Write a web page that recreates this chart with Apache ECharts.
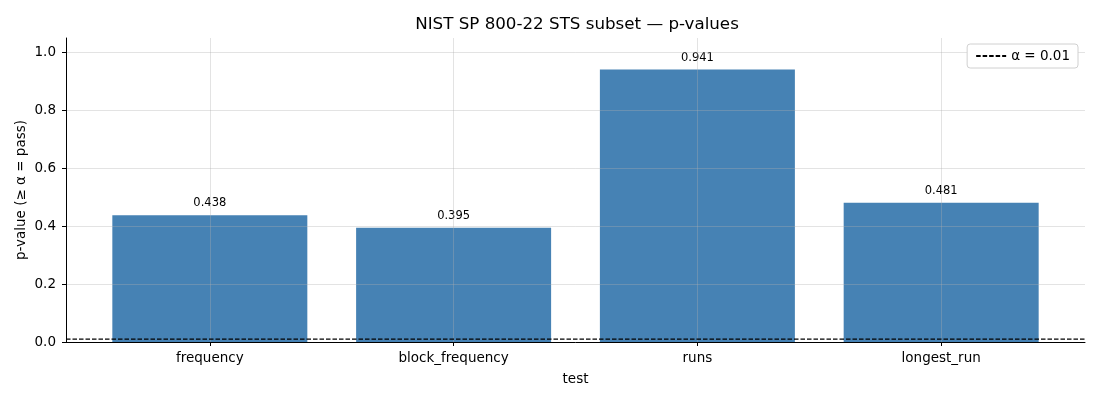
<!DOCTYPE html>
<html>
<head>
<meta charset="utf-8">
<script src="https://cdn.jsdelivr.net/npm/echarts@6/dist/echarts.min.js"></script>
<style>
  html, body { margin: 0; padding: 0; background: #fff; }
  #myChart { width: 1100px; height: 400px; }
</style>
</head>
<body>
<div id="myChart"></div>
<script>
// 数据
var tests = ['frequency', 'block_frequency', 'runs', 'longest_run'];
var pValues = [0.438, 0.395, 0.941, 0.481];
var alpha = 0.01;
var yTicks = [0, 0.2, 0.4, 0.6, 0.8, 1.0];
var xMin = -0.59, xMax = 3.59;

var myChart = echarts.init(document.getElementById('myChart'));
var font = 'DejaVu Sans';
var gridColor = 'rgba(176,176,176,0.35)';

var barData = [];
for (var i = 0; i < tests.length; i++) {
    barData.push([i, pValues[i]]);
}

var option = {
    animation: false,
    textStyle: { fontFamily: font },
    title: {
        text: 'NIST SP 800-22 STS subset — p-values',
        left: 572,
        top: 11,
        textAlign: 'center',
        textStyle: { fontFamily: font, fontSize: 16.7, fontWeight: 'normal', color: '#000' }
    },
    legend: {
        data: [{ name: 'α = 0.01', itemStyle: { opacity: 0 } }],
        right: 22,
        top: 44,
        padding: [5, 8, 5, 8],
        borderColor: '#d0d0d0',
        borderWidth: 1,
        borderRadius: 3,
        backgroundColor: '#fff',
        itemWidth: 30,
        itemHeight: 12,
        textStyle: { fontFamily: font, fontSize: 13.5, color: '#000' }
    },
    grid: { left: 66, right: 15, top: 38, bottom: 58 },
    xAxis: {
        type: 'value',
        min: xMin,
        max: xMax,
        z: 3,
        name: 'test',
        nameLocation: 'middle',
        nameGap: 30,
        nameMoveOverlap: false,
        nameTextStyle: { fontFamily: font, fontSize: 13.5, color: '#000' },
        axisLine: { show: true, onZero: false, lineStyle: { color: '#000', width: 1 } },
        axisTick: { show: true, inside: false, length: 4, customValues: [0, 1, 2, 3], lineStyle: { color: '#000', width: 1 } },
        axisLabel: {
            customValues: [0, 1, 2, 3],
            margin: 9,
            fontSize: 13.5,
            color: '#000',
            formatter: function (v) { return tests[Math.round(v)] || ''; }
        },
        splitLine: { show: true, lineStyle: { color: gridColor, width: 1 } }
    },
    yAxis: {
        type: 'value',
        min: 0,
        max: 1.05,
        z: 3,
        name: 'p-value (≥ α = pass)',
        nameLocation: 'middle',
        nameGap: 38,
        nameMoveOverlap: false,
        nameTextStyle: { fontFamily: font, fontSize: 13.5, color: '#000' },
        axisLine: { show: true, onZero: false, lineStyle: { color: '#000', width: 1 } },
        axisTick: { show: true, inside: false, length: 4, customValues: yTicks, lineStyle: { color: '#000', width: 1 } },
        axisLabel: {
            customValues: yTicks,
            margin: 10,
            fontSize: 13.5,
            color: '#000',
            formatter: function (v) { return v.toFixed(1); }
        },
        splitLine: { show: true, lineStyle: { color: gridColor, width: 1 } }
    },
    series: [{
        name: 'p-value',
        type: 'bar',
        data: barData,
        barWidth: 195,
        itemStyle: { color: '#4682b4' },
        label: {
            show: true,
            position: 'top',
            distance: 6,
            fontFamily: font,
            fontSize: 11.5,
            color: '#000',
            formatter: function (p) { return p.value[1].toFixed(3); }
        }
    }, {
        name: 'α = 0.01',
        type: 'line',
        data: [[xMin, alpha], [xMax, alpha]],
        symbol: 'none',
        z: 5,
        lineStyle: { color: '#000', width: 1.2, type: [4.5, 2] },
        itemStyle: { color: '#000' }
    }]
};

myChart.setOption(option);
</script>
</body>
</html>
